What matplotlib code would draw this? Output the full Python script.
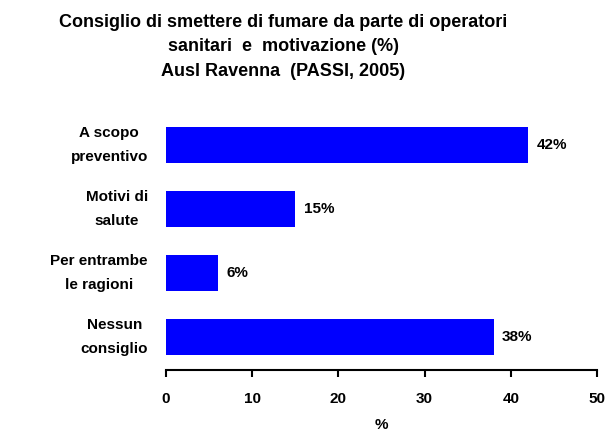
import matplotlib.pyplot as plt

# data
categorie = ['A scopo\npreventivo', 'Motivi di\nsalute', 'Per entrambe\nle ragioni', 'Nessun\nconsiglio']
valori = [42, 15, 6, 38]
etichette = ['42%', '15%', '6%', '38%']
xticks = [0, 10, 20, 30, 40, 50]

plt.rcParams['font.family'] = ['Liberation Sans', 'DejaVu Sans']

fig = plt.figure(figsize=(6.09, 4.34), dpi=100)
ax = fig.add_axes([0.2726, 0.1475, 0.7077, 0.5945])

pos = list(range(len(categorie)))
ax.barh(pos, valori, height=0.5625, color='#0000FF')
ax.set_ylim(len(categorie) - 0.48, -0.52)
ax.set_xlim(0, 50)

for p, v, lab in zip(pos, valori, etichette):
    ax.text(v + 1.0, p, lab, va='center', ha='left', fontsize=11, fontweight='bold')

ax.set_yticks(pos)
ax.set_yticklabels(categorie, fontsize=11, fontweight='bold', multialignment='center',
                   linespacing=1.95, va='center')
ax.tick_params(axis='y', length=0, pad=13)
ax.set_xticks(xticks)
ax.set_xticklabels([str(t) for t in xticks], fontsize=11, fontweight='bold')
ax.tick_params(axis='x', direction='out', length=5, width=1.5, pad=10.5)

for s in ['top', 'right', 'left']:
    ax.spines[s].set_visible(False)
ax.spines['bottom'].set_linewidth(1.5)

ax.set_xlabel('%', fontsize=11, fontweight='bold', labelpad=9)

fig.text(0.465, 0.968, 'Consiglio di smettere di fumare da parte di operatori\nsanitari  e  motivazione (%)\nAusl Ravenna  (PASSI, 2005)',
         ha='center', va='top', fontsize=13, fontweight='bold', linespacing=1.57)

fig.savefig('out.png', dpi=100)
